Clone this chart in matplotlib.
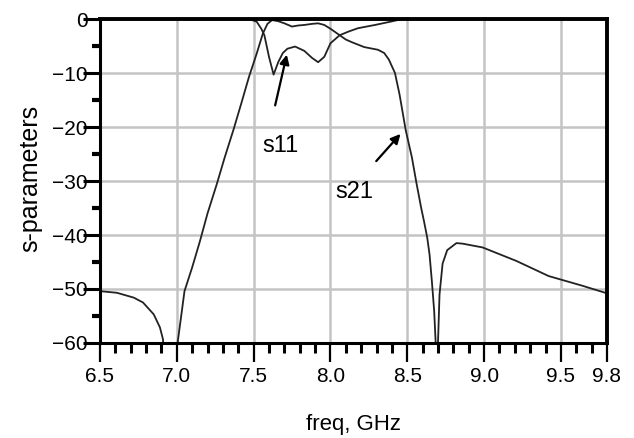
import numpy as np
import matplotlib.pyplot as plt
from matplotlib.ticker import MultipleLocator

plt.rcParams['font.family'] = ['Liberation Sans', 'DejaVu Sans']

# s21 (transmission), values
s21_freq = [6.50, 6.61, 6.72, 6.78, 6.85, 6.89, 6.91, 6.95, 7.005, 7.03, 7.05,
            7.10, 7.15, 7.20, 7.26, 7.31, 7.37, 7.42, 7.47, 7.52, 7.56, 7.59,
            7.62, 7.66, 7.70, 7.75, 7.79, 7.83, 7.88, 7.92, 7.96, 8.00, 8.06,
            8.10, 8.14, 8.22, 8.31, 8.35, 8.38, 8.42, 8.45, 8.49, 8.53, 8.56,
            8.59, 8.61, 8.63, 8.645, 8.66, 8.675, 8.685, 8.693, 8.70, 8.71,
            8.73, 8.76, 8.82, 8.86, 8.99, 9.21, 9.42, 9.64, 9.80]
s21_db = [-50.4, -50.7, -51.6, -52.5, -54.7, -57.1, -59.3, -80.0, -60.0, -54.7,
          -50.4, -46.0, -41.2, -36.0, -30.6, -25.8, -20.4, -15.6, -10.7, -6.4,
          -2.7, -0.9, -0.2, -0.4, -0.8, -1.4, -1.2, -1.1, -0.9, -0.8, -1.1,
          -1.8, -3.0, -3.8, -4.3, -5.2, -5.7, -6.3, -7.5, -10.0, -14.0,
          -20.6, -25.6, -30.4, -34.9, -37.6, -40.5, -43.6, -48.5, -54.0,
          -60.0, -75.0, -60.0, -51.0, -45.3, -42.8, -41.5, -41.6, -42.3,
          -44.8, -47.6, -49.4, -50.8]

# s11 (reflection)
s11_freq = [7.40, 7.48, 7.52, 7.55, 7.57, 7.60, 7.63, 7.66, 7.69, 7.72, 7.77,
            7.83, 7.88, 7.92, 7.96, 8.00, 8.06, 8.12, 8.18, 8.29, 8.39, 8.46,
            8.49]
s11_db = [0.0, -0.1, -0.5, -1.8, -3.0, -7.0, -10.3, -8.0, -6.3, -5.5, -5.1,
          -5.9, -7.2, -8.0, -7.0, -4.5, -3.0, -2.3, -1.7, -1.1, -0.5, -0.05,
          0.0]

xticks = [6.5, 7.0, 7.5, 8.0, 8.5, 9.0, 9.5, 9.8]
xtick_labels = ['6.5', '7.0', '7.5', '8.0', '8.5', '9.0', '9.5', '9.8']
yticks = [0, -10, -20, -30, -40, -50, -60]

fig = plt.figure(figsize=(6.34, 4.38), dpi=100)
ax = fig.add_axes([0.1577, 0.2169, 0.7997, 0.7397])

ax.plot(s21_freq, s21_db, color='#222222', lw=1.3)
ax.plot(s11_freq, s11_db, color='#222222', lw=1.3)

ax.set_xlim(6.5, 9.8)
ax.set_ylim(-60, 0)
ax.set_xticks(xticks)
ax.set_xticklabels(xtick_labels)
ax.set_yticks(yticks)
ax.xaxis.set_minor_locator(MultipleLocator(0.1))
ax.yaxis.set_minor_locator(MultipleLocator(5))

ax.grid(True, which='major', color='#c4c4c4', lw=1.8)
ax.set_axisbelow(True)

ax.tick_params(axis='x', which='major', length=14, width=1.6, direction='out',
               pad=3, labelsize=15)
ax.tick_params(axis='x', which='minor', length=7, width=2.2, direction='out')
ax.tick_params(axis='y', which='major', length=12, width=2.2, direction='out',
               pad=-3, labelsize=15)
ax.tick_params(axis='y', which='minor', length=6, width=3, direction='out')

for side in ['top', 'right', 'bottom', 'left']:
    ax.spines[side].set_linewidth(2.2)
ax.spines['top'].set_linewidth(2.8)
ax.spines['right'].set_linewidth(2.8)

fig.text(0.048, 0.593, 's-parameters', rotation=90, ha='center', va='center',
         fontsize=18)
fig.text(0.557, 0.03, 'freq, GHz', ha='center', va='center', fontsize=16)

ax.annotate('', xy=(7.72, -6.1), xytext=(7.636, -16.5),
            arrowprops=dict(arrowstyle='-|>', color='black', lw=1.6,
                            mutation_scale=14))
ax.annotate('', xy=(8.468, -20.9), xytext=(8.286, -26.7),
            arrowprops=dict(arrowstyle='-|>', color='black', lw=1.6,
                            mutation_scale=14))
ax.text(7.675, -23.5, 's11', ha='center', va='center', fontsize=17)
ax.text(8.156, -32.0, 's21', ha='center', va='center', fontsize=17)

fig.savefig('out.png', dpi=100)
